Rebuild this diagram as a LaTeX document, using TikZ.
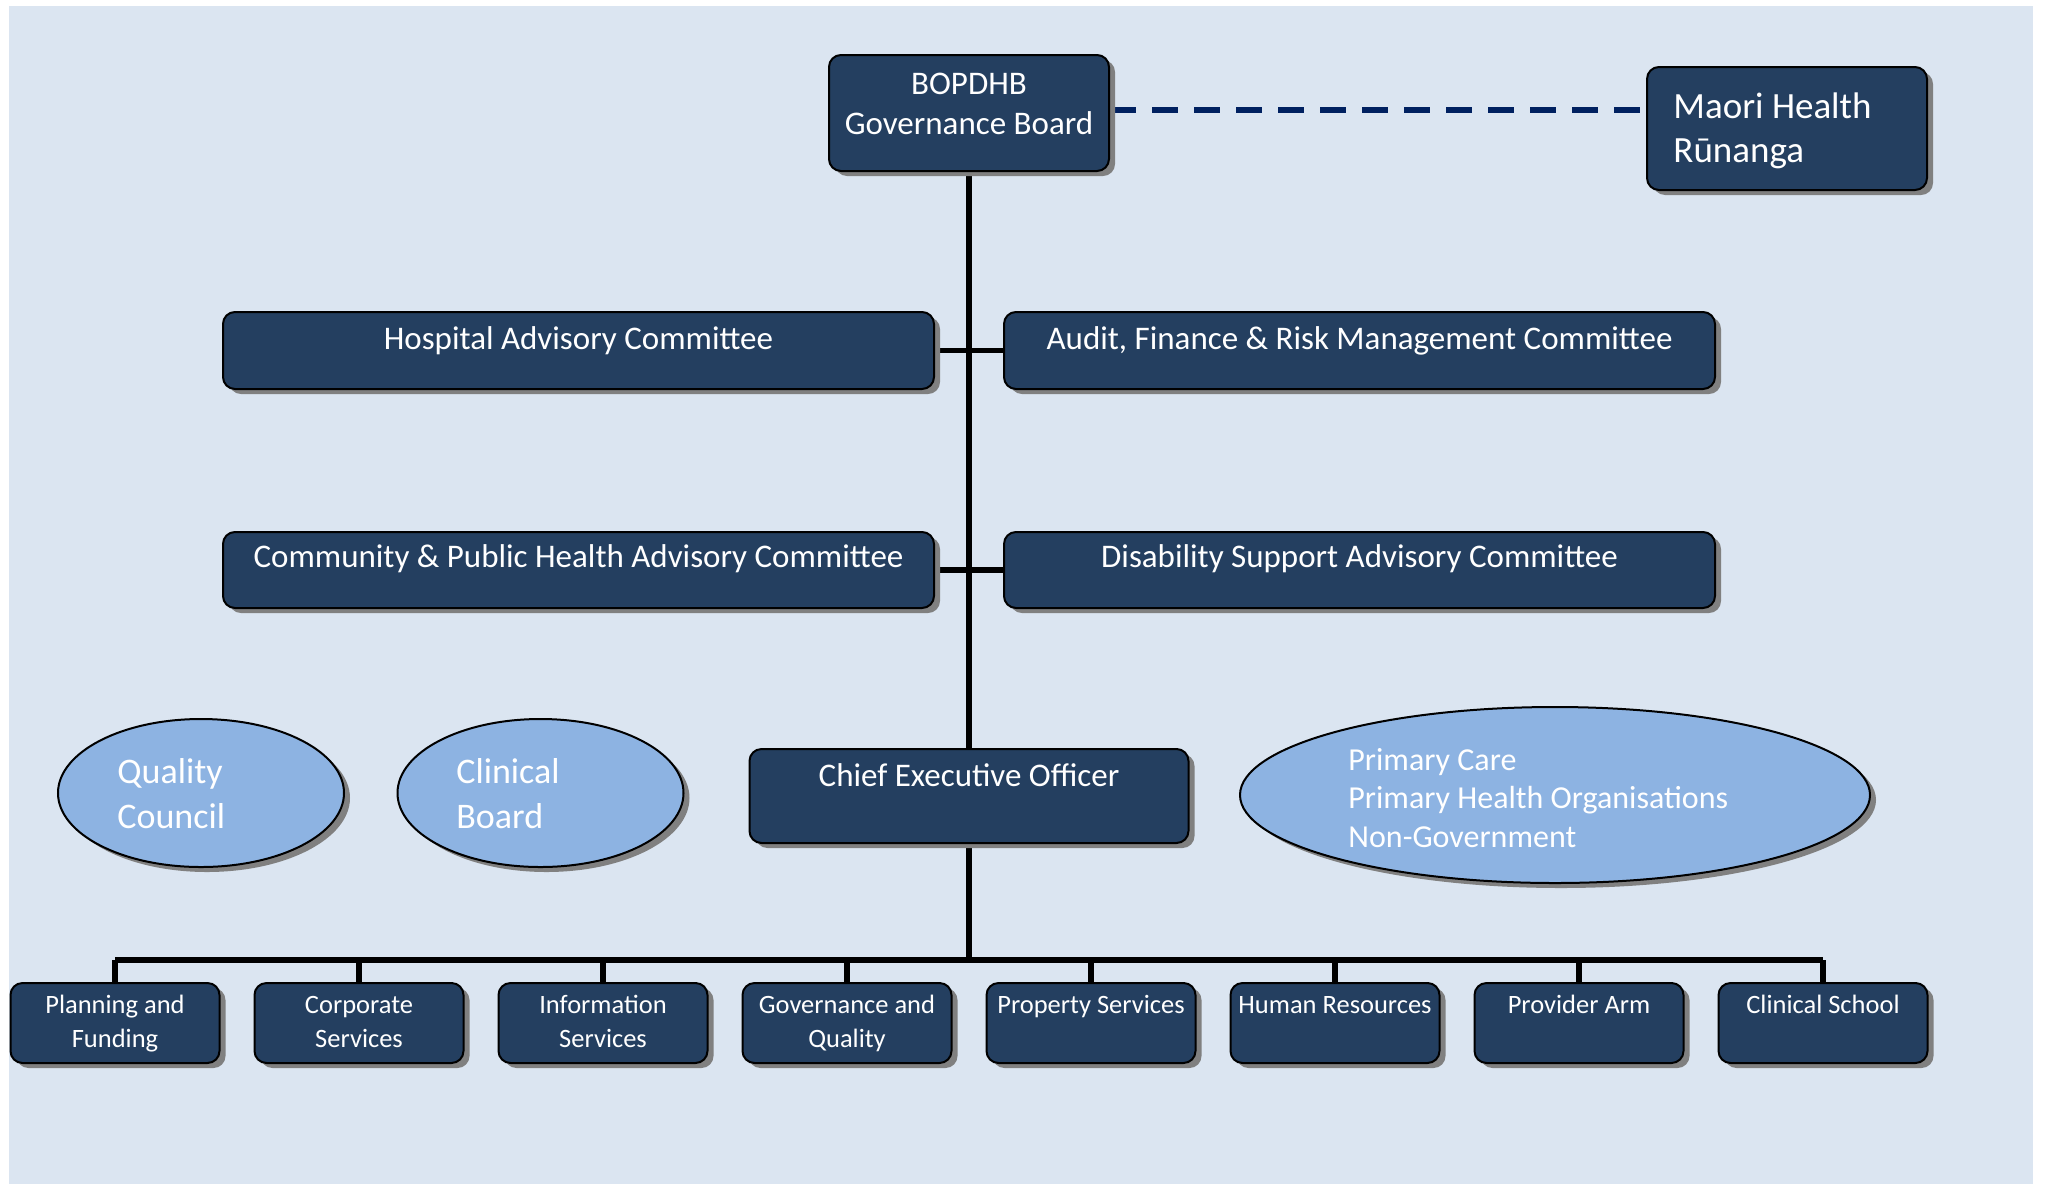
\documentclass[tikz,border=0pt]{standalone}
\usepackage{fontspec}
\setmainfont{Carlito}
\usetikzlibrary{shapes.geometric,shadows}
\definecolor{pagebg}{RGB}{219,229,241}
\definecolor{boxfill}{RGB}{36,63,96}
\definecolor{ovalfill}{RGB}{141,179,226}
\definecolor{dashnavy}{RGB}{0,32,96}
\definecolor{shade}{RGB}{128,128,128}
\pgfdeclarelayer{back}
\pgfsetlayers{back,main}
\newcommand\fsz[2]{\fontsize{#1}{#2}\selectfont}
\begin{document}
\begin{tikzpicture}[x=0.5pt,y=-0.5pt,
  box/.style={draw=black,line width=1pt,fill=boxfill,rounded corners=6pt,inner sep=0pt,
    drop shadow={shadow xshift=3pt,shadow yshift=-2.5pt,fill=shade,opacity=1}},
  oval/.style={ellipse,draw=black,line width=1pt,fill=ovalfill,inner sep=0pt,
    drop shadow={shadow xshift=3pt,shadow yshift=-2.5pt,fill=shade,opacity=1}},
  lbl/.style={text=white,inner sep=0pt,anchor=base},
  link/.style={draw=black,line width=2.75pt},
  dashlink/.style={draw=dashnavy,line width=3pt,dash pattern=on 13pt off 8pt}]
\useasboundingbox (0,0) rectangle (2049,1184);

% governance level (multi-line labels are placed by the baseline of their last line)
\node[box,minimum width=140pt,minimum height=58pt] (bop) at (969,113) {};
\node[lbl,align=center,font=\fsz{16.5pt}{20pt}] (bopt) at (969,134) {BOPDHB\\Governance Board};
\node[box,minimum width=140pt,minimum height=61.5pt] (mhr) at (1787,128.5) {};
\node[lbl,anchor=base west,align=left,font=\fsz{18.5pt}{22pt}] (mhrt) at (1673,162) {Maori Health\\Rūnanga};

% committees
\node[box,minimum width=355.5pt,minimum height=38.5pt] (hac) at (578.5,350.5) {};
\node[lbl,font=\fsz{16.5pt}{20pt}] (hact) at (578.5,349) {Hospital Advisory Committee};
\node[box,minimum width=355.5pt,minimum height=38.5pt] (afr) at (1359.5,350.5) {};
\node[lbl,font=\fsz{16.5pt}{20pt}] (afrt) at (1359.5,349) {Audit, Finance \& Risk Management Committee};
\node[box,minimum width=355.5pt,minimum height=38pt] (cph) at (578.5,570) {};
\node[lbl,font=\fsz{16.5pt}{20pt}] (cpht) at (578.5,567) {Community \& Public Health Advisory Committee};
\node[box,minimum width=355.5pt,minimum height=38pt] (dsa) at (1359.5,570) {};
\node[lbl,font=\fsz{16.5pt}{20pt}] (dsat) at (1359.5,567) {Disability Support Advisory Committee};

% chief executive and advisory groups
\node[box,minimum width=219.5pt,minimum height=47pt] (ceo) at (969,796) {};
\node[lbl,font=\fsz{16.5pt}{20pt}] (ceot) at (969,786) {Chief Executive Officer};
\node[oval,minimum width=143pt,minimum height=74pt] (qc) at (201,793) {};
\node[lbl,anchor=base west,align=left,font=\fsz{18pt}{22.5pt}] (qct) at (117,828) {Quality\\Council};
\node[oval,minimum width=143pt,minimum height=74pt] (cb) at (540.5,793) {};
\node[lbl,anchor=base west,align=left,font=\fsz{18pt}{22.5pt}] (cbt) at (456,828) {Clinical\\Board};
\node[oval,minimum width=315pt,minimum height=88pt] (pc) at (1555,795) {};
\node[lbl,anchor=base west,align=left,font=\fsz{16pt}{19.25pt}] (pct) at (1348,847)
  {Primary Care\\Primary Health Organisations\\Non-Government};

% services reporting to the CEO
\foreach \i/\ty/\t [evaluate=\i as \cx using 115+244*(\i-1)] in
  {1/1047/{Planning and\\Funding},2/1047/{Corporate\\Services},3/1047/{Information\\Services},
   4/1047/{Governance and\\Quality},5/1013/{Property Services},6/1013/{Human Resources},
   7/1013/{Provider Arm},8/1013/{Clinical School}}{
  \node[box,minimum width=104.5pt,minimum height=40pt] (b\i) at (\cx,1023) {};
  \node[lbl,align=center,font=\fsz{13.25pt}{17pt}] (b\i t) at (\cx,\ty) {\t};
}
\coordinate (bar) at (969,960);
\coordinate (dashy) at (1378,110);

\begin{pgfonlayer}{back}
  \fill[pagebg] (9,6) rectangle (2033,1184);
  \draw[link] (bop.south) -- (bop.south |- ceo.north);
  \draw[link] (hac.east) -- (afr.west);
  \draw[link] (cph.east) -- (dsa.west);
  \draw[link] (ceo.south) -- (ceo.south |- bar);
  \draw[link] (b1.north |- bar) -- (b8.north |- bar);
  \foreach \i in {1,...,8}{\draw[link] (b\i.north) -- (b\i.north |- bar);}
  \draw[dashlink] (bop.east |- dashy) -- (mhr.west |- dashy);
\end{pgfonlayer}
\end{tikzpicture}
\end{document}
